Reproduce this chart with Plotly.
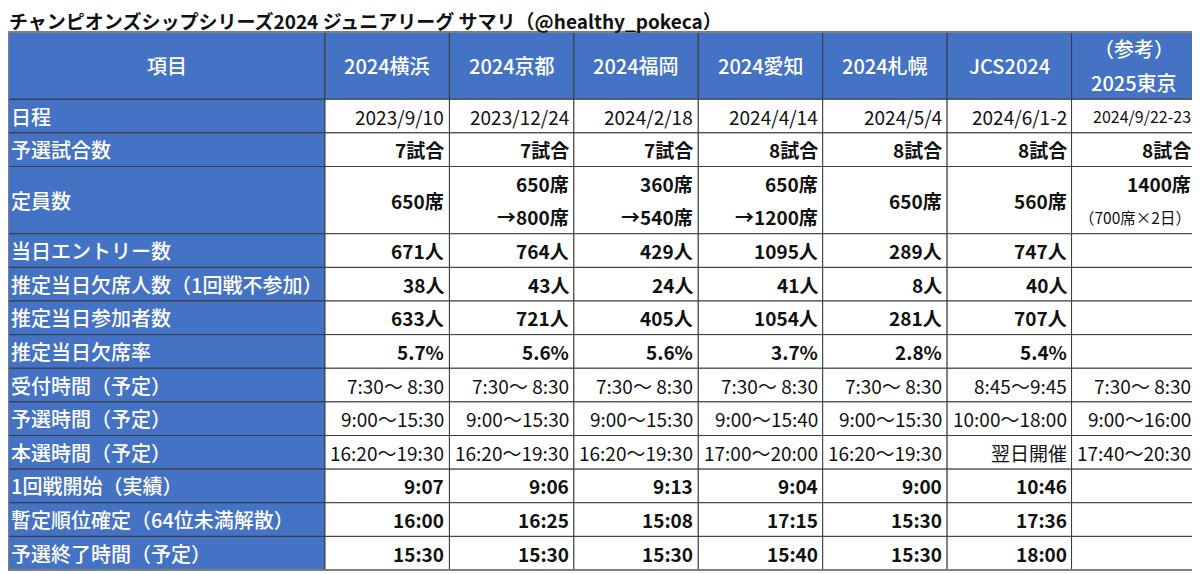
import plotly.graph_objects as go

# ---------------- data ----------------
title = "チャンピオンズシップシリーズ2024 ジュニアリーグ サマリ（@healthy_pokeca）"
corner = "項目"
venues = ["2024横浜", "2024京都", "2024福岡", "2024愛知", "2024札幌", "JCS2024", "2025東京"]
venue_note = ["", "", "", "", "", "", "（参考）"]

row_labels = ["日程", "予選試合数", "定員数", "当日エントリー数", "推定当日欠席人数（1回戦不参加）",
              "推定当日参加者数", "推定当日欠席率", "受付時間（予定）", "予選時間（予定）",
              "本選時間（予定）", "1回戦開始（実績）", "暫定順位確定（64位未満解散）", "予選終了時間（予定）"]

dates = ["2023/9/10", "2023/12/24", "2024/2/18", "2024/4/14", "2024/5/4", "2024/6/1-2", "2024/9/22-23"]
matches = [7, 7, 7, 8, 8, 8, 8]
capacity = [650, 650, 360, 650, 650, 560, 1400]
capacity_expanded = [None, 800, 540, 1200, None, None, None]
capacity_note = ["", "", "", "", "", "", "（700席×2日）"]
entries = [671, 764, 429, 1095, 289, 747, None]
absent = [38, 43, 24, 41, 8, 40, None]
participants = [633, 721, 405, 1054, 281, 707, None]
absent_rate = [5.7, 5.6, 5.6, 3.7, 2.8, 5.4, None]
reception = ["7:30～ 8:30", "7:30～ 8:30", "7:30～ 8:30", "7:30～ 8:30", "7:30～ 8:30", "8:45～9:45", "7:30～ 8:30"]
qual_time = ["9:00～15:30", "9:00～15:30", "9:00～15:30", "9:00～15:40", "9:00～15:30", "10:00～18:00", "9:00～16:00"]
final_time = ["16:20～19:30", "16:20～19:30", "16:20～19:30", "17:00～20:00", "16:20～19:30", "翌日開催", "17:40～20:30"]
first_round = ["9:07", "9:06", "9:13", "9:04", "9:00", "10:46", ""]
provisional = ["16:00", "16:25", "15:08", "17:15", "15:30", "17:36", ""]
qual_end = ["15:30", "15:30", "15:30", "15:40", "15:30", "18:00", ""]

# ---------------- layout geometry (page pixel coordinates) ----------------
W, H = 1200, 574
OFF = 8  # default page body margin
X0, X1 = 8, 1196
COL1 = 325
Y0, Y1 = 32, 570
row_units = [2, 1, 1, 2, 1, 1, 1, 1, 1, 1, 1, 1, 1, 1]  # header + 13 rows
unit = (Y1 - Y0) / sum(row_units)
ncol = len(venues)
col_w = (X1 - COL1) / ncol

col_edges = [X0, COL1] + [COL1 + col_w * (i + 1) for i in range(ncol)]
row_edges = [Y0]
for u in row_units:
    row_edges.append(row_edges[-1] + u * unit)

BLUE = "#4472C4"
LINE = "#3a3a3a"
FONT = "Noto Sans CJK JP"
TXT = "#111111"
HEAD_SIZE = 20
BODY_SIZE = 19

def fmt(v, suf):
    return "" if v is None else f"{v}{suf}"

rows_text = [
    [dates[i] for i in range(ncol)],
    [fmt(matches[i], "試合") for i in range(ncol)],
    None,  # capacity handled separately
    [fmt(entries[i], "人") for i in range(ncol)],
    [fmt(absent[i], "人") for i in range(ncol)],
    [fmt(participants[i], "人") for i in range(ncol)],
    ["" if absent_rate[i] is None else f"{absent_rate[i]:.1f}%" for i in range(ncol)],
    reception, qual_time, final_time, first_round, provisional, qual_end,
]
rows_bold = [False, True, True, True, True, True, True, False, False, False, True, True, True]

shapes = []
ann = []

def rect(x0, y0, x1, y1, fill):
    shapes.append(dict(type="rect", xref="x", yref="y", x0=x0, x1=x1, y0=y0, y1=y1,
                       fillcolor=fill, line=dict(color=LINE, width=1), layer="below"))

def text(x, y, s, size=BODY_SIZE, color=TXT, bold=False, anchor="right", weight=None):
    w = weight if weight is not None else (700 if bold else 400)
    ann.append(dict(x=x, y=y, xref="x", yref="y", text=s, showarrow=False,
                    xanchor=anchor, yanchor="middle",
                    font=dict(family=FONT, size=size, color=color, weight=w)))

# header row
for c in range(ncol + 1):
    rect(col_edges[c], row_edges[0], col_edges[c + 1], row_edges[1], BLUE)
hy = (row_edges[0] + row_edges[1]) / 2
text((col_edges[0] + col_edges[1]) / 2, hy, corner, size=HEAD_SIZE, color="white", anchor="center", weight=500)
for c in range(ncol):
    cx = (col_edges[c + 1] + col_edges[c + 2]) / 2
    if venue_note[c]:
        text(cx, row_edges[0] + unit * 0.5, venue_note[c], size=HEAD_SIZE, color="white", anchor="center", weight=500)
        text(cx, row_edges[0] + unit * 1.5, venues[c], size=HEAD_SIZE, color="white", anchor="center", weight=500)
    else:
        text(cx, hy, venues[c], size=HEAD_SIZE, color="white", anchor="center", weight=500)

# body rows
for r, label in enumerate(row_labels):
    ya, yb = row_edges[r + 1], row_edges[r + 2]
    ym = (ya + yb) / 2
    rect(col_edges[0], ya, col_edges[1], yb, BLUE)
    text(col_edges[0] + 1, ym, label, size=HEAD_SIZE, color="white", anchor="left", weight=500)
    for c in range(ncol):
        xa, xb = col_edges[c + 1], col_edges[c + 2]
        rect(xa, ya, xb, yb, "white")
        xr = xb - 3
        if r == 2:
            if capacity_expanded[c] is not None:
                text(xr, ya + unit * 0.5, f"{capacity[c]}席", bold=True)
                text(xr, ya + unit * 1.5, f"→{capacity_expanded[c]}席", bold=True)
            elif capacity_note[c]:
                text(xr, ya + unit * 0.5, f"{capacity[c]}席", bold=True)
                text(xr, ya + unit * 1.5, capacity_note[c], size=15.5)
            else:
                text(xr, ym, f"{capacity[c]}席", bold=True)
        else:
            s = rows_text[r][c]
            if s:
                size = 16 if (r == 0 and len(s) > 10) else BODY_SIZE
                text(xr, ym, s, size=size, bold=rows_bold[r])

# outer border
shapes.append(dict(type="rect", xref="x", yref="y", x0=X0, x1=X1, y0=Y0, y1=Y1,
                   fillcolor="rgba(0,0,0,0)", line=dict(color="#7f7f7f", width=2), layer="above"))

# title
ann.append(dict(x=8, y=20.5, xref="x", yref="y", text=title, showarrow=False,
                xanchor="left", yanchor="middle", borderpad=0,
                font=dict(family=FONT, size=19, color="#111111", weight=700)))

fig = go.Figure()
fig.update_layout(
    width=W, height=H, margin=dict(l=0, r=0, t=0, b=0),
    paper_bgcolor="white", plot_bgcolor="white",
    xaxis=dict(range=[OFF, W + OFF], visible=False, fixedrange=True),
    yaxis=dict(range=[H + OFF, OFF], visible=False, fixedrange=True),
    shapes=shapes, annotations=ann, showlegend=False,
)
fig.write_html("out.html")
